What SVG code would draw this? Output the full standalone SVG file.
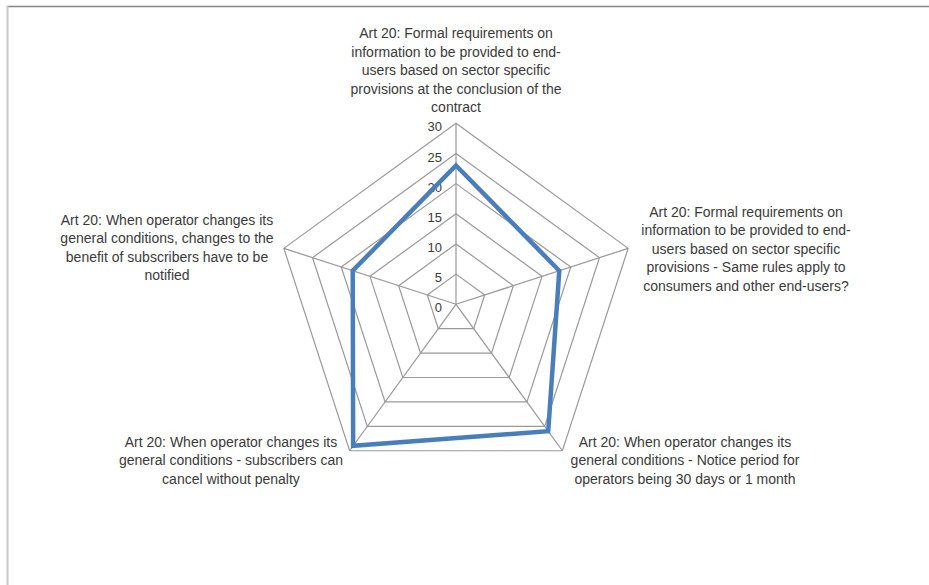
<svg xmlns="http://www.w3.org/2000/svg" width="929" height="585" viewBox="0 0 929 585">
<style>
.lbl{font-family:"Liberation Sans",Arial,sans-serif;font-size:14px;fill:#3a3a3a;text-anchor:middle}
.tick{font-family:"Liberation Sans",Arial,sans-serif;font-size:13px;fill:#3a3a3a;text-anchor:end}
.grid{fill:none;stroke:#999999;stroke-width:1.2}
.series{fill:none;stroke:#4a7ebb;stroke-width:4.5;stroke-linejoin:miter}
</style>
<rect x="0" y="0" width="929" height="585" fill="#ffffff"/>
<line x1="7" y1="6.5" x2="929" y2="6.5" stroke="#858585" stroke-width="1.5"/>
<line x1="7.5" y1="6" x2="7.5" y2="585" stroke="#c8c8c8" stroke-width="2"/>
<g id="grid">
<polygon class="grid" points="456,274.13 484.69,294.98 473.73,328.71 438.27,328.71 427.31,294.98"/>
<polygon class="grid" points="456,243.97 513.38,285.66 491.46,353.11 420.54,353.11 398.62,285.66"/>
<polygon class="grid" points="456,213.8 542.07,276.33 509.2,377.52 402.8,377.52 369.93,276.33"/>
<polygon class="grid" points="456,183.63 570.76,267.01 526.93,401.92 385.07,401.92 341.24,267.01"/>
<polygon class="grid" points="456,153.47 599.45,257.69 544.66,426.32 367.34,426.32 312.55,257.69"/>
<polygon class="grid" points="456,123.3 628.14,248.37 562.39,450.73 349.61,450.73 283.86,248.37"/>
<line class="grid" x1="456" y1="304.3" x2="456" y2="123.3"/>
<line class="grid" x1="456" y1="304.3" x2="628.14" y2="248.37"/>
<line class="grid" x1="456" y1="304.3" x2="562.39" y2="450.73"/>
<line class="grid" x1="456" y1="304.3" x2="349.61" y2="450.73"/>
<line class="grid" x1="456" y1="304.3" x2="283.86" y2="248.37"/>
</g>
<g id="ticks">
<text class="tick" x="442" y="312">0</text>
<text class="tick" x="442" y="282">5</text>
<text class="tick" x="442" y="252">10</text>
<text class="tick" x="442" y="222">15</text>
<text class="tick" x="442" y="191.5">20</text>
<text class="tick" x="442" y="161.5">25</text>
<text class="tick" x="442" y="131">30</text>
</g>
<g id="connectors">
<polygon class="series" points="456,165.53 559.28,270.74 548.21,431.21 353.16,445.85 352.72,270.74"/>
</g>
<g id="label-top">
<text class="lbl" x="456" y="38">Art 20: Formal requirements on</text>
<text class="lbl" x="456" y="56.5">information to be provided to end-</text>
<text class="lbl" x="456" y="75">users based on sector specific</text>
<text class="lbl" x="456" y="93.5">provisions at the conclusion of the</text>
<text class="lbl" x="456" y="112">contract</text>
</g>
<g id="label-right">
<text class="lbl" x="746" y="216.5">Art 20: Formal requirements on</text>
<text class="lbl" x="746" y="235">information to be provided to end-</text>
<text class="lbl" x="746" y="253.5">users based on sector specific</text>
<text class="lbl" x="746" y="272">provisions - Same rules apply to</text>
<text class="lbl" x="746" y="290.5">consumers and other end-users?</text>
</g>
<g id="label-bottom-right">
<text class="lbl" x="685" y="446.5">Art 20: When operator changes its</text>
<text class="lbl" x="685" y="465">general conditions - Notice period for</text>
<text class="lbl" x="685" y="483.5">operators being 30 days or 1 month</text>
</g>
<g id="label-bottom-left">
<text class="lbl" x="231" y="446.5">Art 20: When operator changes its</text>
<text class="lbl" x="231" y="465">general conditions - subscribers can</text>
<text class="lbl" x="231" y="483.5">cancel without penalty</text>
</g>
<g id="label-left">
<text class="lbl" x="167" y="224.5">Art 20: When operator changes its</text>
<text class="lbl" x="167" y="243">general conditions, changes to the</text>
<text class="lbl" x="167" y="261.5">benefit of subscribers have to be</text>
<text class="lbl" x="167" y="280">notified</text>
</g>
</svg>
